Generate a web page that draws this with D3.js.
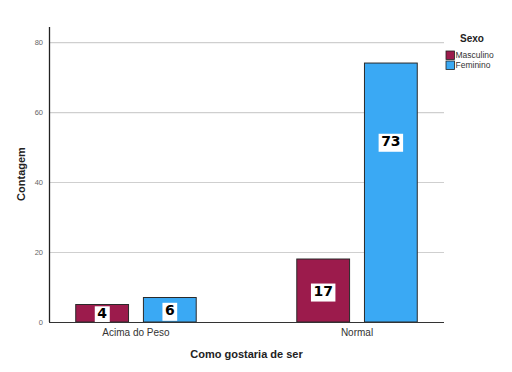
<!DOCTYPE html>
<html>
<head>
<meta charset="utf-8">
<script src="https://cdn.jsdelivr.net/npm/d3@7"></script>
<style>
  body { margin: 0; background: #fff; }
  svg { display: block; font-family: "Liberation Sans", Arial, sans-serif; }
</style>
</head>
<body>
<div id="chart"></div>
<script>
const categories = ["Acima do Peso", "Normal"];
const series = ["Masculino", "Feminino"];
const colors = ["#9c1b4c", "#3aa9f4"];
// bar heights as drawn in the picture
const masculino = [5, 18];
const feminino = [7, 74];
// numbers written on the bars
const labelMasculino = ["4", "17"];
const labelFeminino = ["6", "73"];
const yTicks = [0, 20, 40, 60, 80];

const width = 512, height = 372;
const margin = {top: 27, right: 68, bottom: 50, left: 49};

const svg = d3.select("#chart").append("svg")
  .attr("width", width)
  .attr("height", height);

const x0 = d3.scaleBand()
  .domain(categories)
  .range([margin.left, width - margin.right])
  .paddingInner(0.455)
  .paddingOuter(0.121);

const x1 = d3.scaleBand()
  .domain(series)
  .range([0, x0.bandwidth()])
  .paddingInner(0.22);

const y = d3.scaleLinear()
  .domain([0, 84.3])
  .range([height - margin.bottom, margin.top]);

const color = d3.scaleOrdinal().domain(series).range(colors);

// grid
svg.append("g")
  .selectAll("line")
  .data(yTicks.filter(d => d > 0))
  .join("line")
  .attr("x1", margin.left)
  .attr("x2", width - margin.right)
  .attr("y1", d => y(d) + 0.5)
  .attr("y2", d => y(d) + 0.5)
  .attr("stroke", "#cfcfcf")
  .attr("stroke-width", 1.2);

// tick labels
svg.append("g")
  .selectAll("text")
  .data(yTicks)
  .join("text")
  .attr("x", margin.left - 6)
  .attr("y", d => y(d))
  .attr("dy", "0.35em")
  .attr("text-anchor", "end")
  .attr("font-size", 7.5)
  .attr("fill", "#666")
  .text(d => d);

const rows = categories.map((c, i) => ({
  cat: c,
  bars: [
    {s: "Masculino", value: masculino[i], label: labelMasculino[i]},
    {s: "Feminino", value: feminino[i], label: labelFeminino[i]}
  ]
}));

const group = svg.append("g")
  .selectAll("g")
  .data(rows)
  .join("g")
  .attr("transform", d => `translate(${x0(d.cat)},0)`);

group.selectAll("rect")
  .data(d => d.bars)
  .join("rect")
  .attr("x", d => x1(d.s))
  .attr("y", d => y(d.value))
  .attr("width", x1.bandwidth())
  .attr("height", d => y(0) - y(d.value))
  .attr("fill", d => color(d.s))
  .attr("stroke", "#2a2a2a")
  .attr("stroke-width", 1);

// white label boxes
const lab = group.selectAll("g.lab")
  .data(d => d.bars)
  .join("g")
  .attr("class", "lab")
  .attr("transform", d => {
    const frac = d.value > 40 ? 0.7 : 0.5;
    return `translate(${x1(d.s) + x1.bandwidth() / 2},${y(d.value * frac)})`;
  });

lab.append("rect").attr("fill", "#fff");
lab.append("text")
  .attr("text-anchor", "middle")
  .attr("dy", "0.36em")
  .attr("font-family", "'DejaVu Sans', Verdana, sans-serif")
  .attr("font-weight", "bold")
  .attr("font-size", 14)
  .attr("fill", "#000")
  .text(d => d.label);

lab.each(function() {
  const g = d3.select(this);
  const b = g.select("text").node().getBBox();
  g.select("rect")
    .attr("x", b.x - 2.5)
    .attr("y", b.y + 1)
    .attr("width", b.width + 5)
    .attr("height", b.height + 2);
});

// axes lines
svg.append("line")
  .attr("x1", margin.left + 0.5).attr("x2", margin.left + 0.5)
  .attr("y1", margin.top).attr("y2", y(0))
  .attr("stroke", "#222").attr("stroke-width", 1.3);
svg.append("line")
  .attr("x1", margin.left).attr("x2", width - margin.right)
  .attr("y1", y(0) + 0.5).attr("y2", y(0) + 0.5)
  .attr("stroke", "#333").attr("stroke-width", 1.2);

// category labels
svg.append("g")
  .selectAll("text")
  .data(categories)
  .join("text")
  .attr("x", d => x0(d) + x0.bandwidth() / 2)
  .attr("y", y(0) + 14)
  .attr("text-anchor", "middle")
  .attr("font-size", 10)
  .attr("fill", "#333")
  .text(d => d);

// axis titles
svg.append("text")
  .attr("x", (margin.left + width - margin.right) / 2)
  .attr("y", 358)
  .attr("text-anchor", "middle")
  .attr("font-size", 11)
  .attr("font-weight", "bold")
  .attr("fill", "#222")
  .text("Como gostaria de ser");

svg.append("text")
  .attr("transform", `translate(25,174) rotate(-90)`)
  .attr("text-anchor", "middle")
  .attr("font-size", 11)
  .attr("font-weight", "bold")
  .attr("fill", "#222")
  .text("Contagem");

// legend
const legend = svg.append("g").attr("transform", "translate(446,0)");
legend.append("text")
  .attr("x", 26)
  .attr("y", 42)
  .attr("text-anchor", "middle")
  .attr("font-size", 10)
  .attr("font-weight", "bold")
  .attr("fill", "#222")
  .text("Sexo");

const item = legend.selectAll("g")
  .data(series)
  .join("g")
  .attr("transform", (d, i) => `translate(0,${51 + i * 10})`);
item.append("rect")
  .attr("width", 8.5)
  .attr("height", 8.5)
  .attr("fill", d => color(d))
  .attr("stroke", "#222")
  .attr("stroke-width", 0.8);
item.append("text")
  .attr("x", 9.5)
  .attr("y", 4.5)
  .attr("dy", "0.35em")
  .attr("font-size", 8.5)
  .attr("fill", "#333")
  .text(d => d);
</script>
</body>
</html>
